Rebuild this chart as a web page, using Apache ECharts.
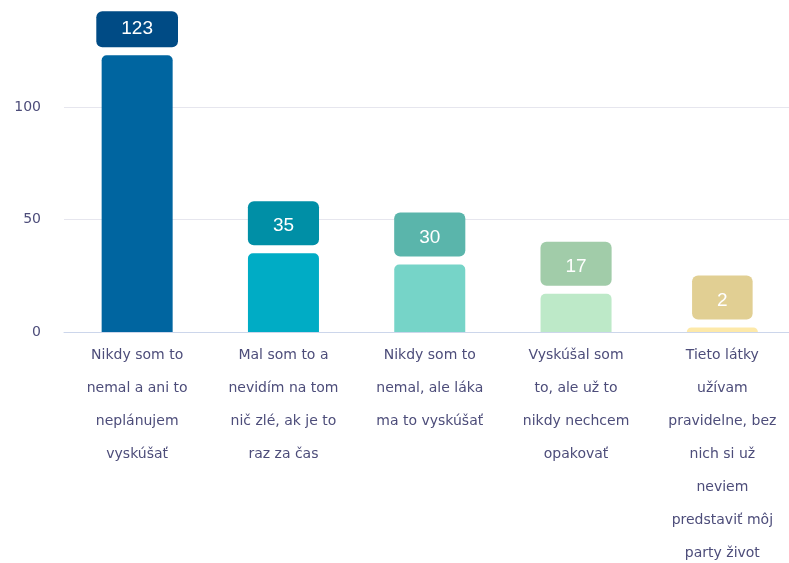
<!DOCTYPE html>
<html>
<head>
<meta charset="utf-8">
<script src="https://cdn.jsdelivr.net/npm/echarts@6/dist/echarts.min.js"></script>
<style>
html,body{margin:0;padding:0;background:#fff;}
#chart{width:789px;height:563px;}
</style>
</head>
<body>
<div id="chart"></div>
<script>
const categories = [
  "Nikdy som to\nnemal a ani to\nneplánujem\nvyskúšať",
  "Mal som to a\nnevidím na tom\nnič zlé, ak je to\nraz za čas",
  "Nikdy som to\nnemal, ale láka\nma to vyskúšať",
  "Vyskúšal som\nto, ale už to\nnikdy nechcem\nopakovať",
  "Tieto látky\nužívam\npravidelne, bez\nnich si už\nneviem\npredstaviť môj\nparty život"
];
const values = [123, 35, 30, 17, 2];
const barColors = ["#0065a0", "#00acc5", "#76d4c8", "#bde9c8", "#fde9a9"];
const labelColors = ["#004b85", "#008fa6", "#5ab5ab", "#a1cca9", "#e1cf93"];
const yTicks = [0, 50, 100];

const chart = echarts.init(document.getElementById('chart'), null, {renderer: 'canvas'});
const data = values.map((v, i) => {
  const item = {
    value: v,
    itemStyle: { color: barColors[i], borderRadius: [5, 5, 0, 0] },
    label: { backgroundColor: labelColors[i] }
  };
  if (i === 0) item.label.padding = [7.5, 25, 8.5, 25];
  return item;
});

chart.setOption({
  animation: false,
  backgroundColor: '#ffffff',
  grid: {
    left: 64, top: -5.5, width: 731.5, height: 337.5,
    containLabel: false,
    outerBoundsMode: 'none'
  },
  xAxis: {
    type: 'category',
    data: categories,
    axisLine: { lineStyle: { color: '#ccd6eb', width: 1 } },
    axisTick: { show: false },
    axisLabel: {
      interval: 0,
      color: '#4d4d7a',
      fontFamily: 'DejaVu Sans',
      fontSize: 14,
      lineHeight: 33,
      margin: 7
    }
  },
  yAxis: {
    type: 'value',
    min: 0,
    max: 150,
    interval: 50,
    axisLine: { show: false },
    axisTick: { show: false },
    splitLine: { lineStyle: { color: '#e6e6ee', width: 1 } },
    axisLabel: {
      color: '#4d4d7a',
      fontFamily: 'DejaVu Sans',
      fontSize: 14,
      margin: 23,
      formatter: v => (yTicks.indexOf(v) >= 0 ? String(v) : '')
    }
  },
  series: [{
    type: 'bar',
    barWidth: 71,
    data: data,
    label: {
      show: true,
      position: 'top',
      distance: 8,
      color: '#ffffff',
      fontFamily: 'Liberation Sans',
      fontSize: 19,
      lineHeight: 20,
      borderRadius: 6,
      padding: [15, 25, 9, 25]
    }
  }]
});
</script>
</body>
</html>
